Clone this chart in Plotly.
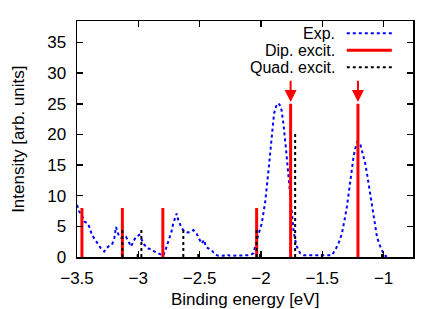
import plotly.graph_objects as go

# Experimental spectrum (binding energy [eV], intensity)
exp_energy = [-3.500, -3.482, -3.460, -3.441, -3.413, -3.395, -3.378, -3.360, -3.340, -3.324,
              -3.305, -3.278, -3.258, -3.237, -3.215, -3.196, -3.182, -3.169, -3.156, -3.128,
              -3.101, -3.079, -3.060, -3.041, -3.019, -2.992, -2.970, -2.951, -2.924, -2.897,
              -2.870, -2.842, -2.815, -2.796, -2.774, -2.747, -2.730, -2.715, -2.687, -2.674,
              -2.646, -2.619, -2.592, -2.551, -2.524, -2.505, -2.483, -2.464, -2.450, -2.429,
              -2.401, -2.374, -2.347, -2.307, -2.279, -2.252, -2.211, -2.170, -2.129, -2.089,
              -2.062, -2.048, -2.023, -1.993, -1.965, -1.939, -1.911, -1.893, -1.876, -1.858,
              -1.836, -1.817, -1.797, -1.781, -1.768, -1.748, -1.735, -1.721, -1.707, -1.680,
              -1.653, -1.613, -1.572, -1.544, -1.490, -1.449, -1.422, -1.395, -1.368, -1.340,
              -1.327, -1.313, -1.299, -1.286, -1.272, -1.258, -1.245, -1.231, -1.213, -1.191,
              -1.169, -1.150, -1.131, -1.115, -1.095, -1.076, -1.054, -1.033, -1.013, -0.995,
              -0.973]
exp_intensity = [8.5, 7.4, 6.8, 5.8, 5.5, 4.7, 3.6, 3.0, 2.5, 2.0,
                 1.4, 0.9, 1.5, 1.8, 2.0, 3.0, 4.9, 4.1, 3.3, 3.0,
                 3.3, 2.5, 1.7, 2.5, 3.3, 3.6, 2.8, 2.0, 1.4, 1.3,
                 0.9, 0.6, 0.3, 0.2, 1.4, 3.0, 4.1, 5.5, 7.1, 6.0,
                 4.7, 4.1, 4.0, 4.4, 3.8, 3.0, 2.2, 2.8, 1.7, 1.4,
                 1.1, 0.4, 0.2, 0.2, 0.4, 0.2, 0.2, 0.3, 0.2, 0.3,
                 0.6, 1.7, 3.5, 5.5, 9.0, 14.0, 20.0, 23.4, 24.6, 25.1,
                 24.5, 21.8, 17.9, 14.7, 10.9, 7.1, 4.4, 2.8, 1.7, 0.6,
                 0.3, 0.3, 0.3, 0.2, 0.2, 0.2, 0.3, 1.1, 2.2, 3.8,
                 4.9, 6.6, 8.2, 10.4, 12.5, 14.7, 16.3, 17.7, 18.8, 18.5,
                 16.9, 15.3, 13.1, 11.0, 8.2, 5.5, 3.3, 2.0, 1.1, 0.3,
                 0.05]

# Dipole excitations
dip_energy = [-3.46, -3.13, -2.80, -2.035, -1.758, -1.209]
dip_intensity = [8, 8, 8, 8, 25, 25]

# Quadrupole excitations
quad_energy = [-3.13, -3.005, -2.975, -2.633, -2.511, -2.035, -2.007, -1.721, -1.503, -1.013]
quad_intensity = [4.6, 0.5, 4.9, 4.6, 0.6, 4.7, 0.5, 20.1, 0.6, 0.5]

# Arrows marking the strong dipole excitations
arrow_energy = [-1.758, -1.209]
arrow_tail = 29.0
arrow_tip = 25.3

legend_labels = ["Exp.", "Dip. excit.", "Quad. excit."]
x_title = "Binding energy [eV]"
y_title = "Intensity [arb. units]"

FONT = "Liberation Sans, Arial, sans-serif"
FS = 17


def sticks(xs, ys):
    sx, sy = [], []
    for x, y in zip(xs, ys):
        sx += [x, x, None]
        sy += [0, y, None]
    return sx, sy


fig = go.Figure()

fig.add_trace(go.Scatter(x=exp_energy, y=exp_intensity, mode="lines",
                         line=dict(color="#0000ff", width=2, dash="dot"),
                         showlegend=False, hoverinfo="skip"))

dx, dy = sticks(dip_energy, dip_intensity)
fig.add_trace(go.Scatter(x=dx, y=dy, mode="lines",
                         line=dict(color="#ff0000", width=3),
                         showlegend=False, hoverinfo="skip"))

qx, qy = sticks(quad_energy, quad_intensity)
fig.add_trace(go.Scatter(x=qx, y=qy, mode="lines",
                         line=dict(color="#000000", width=2, dash="dot"),
                         showlegend=False, hoverinfo="skip"))

for xe in arrow_energy:
    fig.add_annotation(x=xe, y=arrow_tip, ax=xe, ay=arrow_tail,
                       xref="x", yref="y", axref="x", ayref="y",
                       showarrow=True, arrowhead=2, arrowsize=1.2, arrowwidth=2,
                       arrowcolor="#ff0000", standoff=0, text="")

# Manual legend (text right-aligned, sample to the right, as in gnuplot)
legend_rows_y = [0.948, 0.876, 0.804]
legend_styles = [dict(color="#0000ff", width=2, dash="dot"),
                 dict(color="#ff0000", width=3),
                 dict(color="#000000", width=2, dash="dot")]
for label, yp, st in zip(legend_labels, legend_rows_y, legend_styles):
    fig.add_annotation(x=0.774, y=yp, xref="paper", yref="paper",
                       text=label, showarrow=False, xanchor="right", yanchor="middle",
                       font=dict(family=FONT, size=16, color="black"))
    fig.add_shape(type="line", xref="paper", yref="paper",
                  x0=0.803, x1=0.937, y0=yp, y1=yp, line=st)

# Axis titles as annotations for exact placement
fig.add_annotation(x=0.5, y=-0.182, xref="paper", yref="paper", text=x_title,
                   showarrow=False, xanchor="center", yanchor="middle",
                   font=dict(family=FONT, size=FS, color="black"))
fig.add_annotation(x=-0.176, y=0.5, xref="paper", yref="paper", text=y_title,
                   showarrow=False, xanchor="center", yanchor="middle", textangle=-90,
                   font=dict(family=FONT, size=FS, color="black"))

axis_common = dict(showline=True, linecolor="black", linewidth=1.5, mirror="ticks",
                   ticks="inside", ticklen=6, tickwidth=1.5, tickcolor="black",
                   showgrid=False, zeroline=False,
                   tickfont=dict(family=FONT, size=FS, color="black"))

fig.update_xaxes(range=[-3.5, -0.76], tickvals=[-3.5, -3, -2.5, -2, -1.5, -1],
                 ticktext=["\u22123.5", "\u22123", "\u22122.5", "\u22122", "\u22121.5", "\u22121"],
                 ticklabelstandoff=5,
                 **axis_common)
fig.update_yaxes(range=[0, 38.5], tickvals=[0, 5, 10, 15, 20, 25, 30, 35],
                 ticklabelstandoff=6,
                 **axis_common)

fig.update_layout(width=442, height=309,
                  margin=dict(l=77, r=29, t=21, b=52, autoexpand=False),
                  paper_bgcolor="white", plot_bgcolor="white",
                  font=dict(family=FONT, size=FS, color="black"),
                  showlegend=False)

# remove the default 8px page margin so the figure fills the window exactly
fig.write_html("out.html",
               config={"displayModeBar": False, "staticPlot": True},
               post_script="document.body.style.margin='0';document.body.style.overflow='hidden';")
